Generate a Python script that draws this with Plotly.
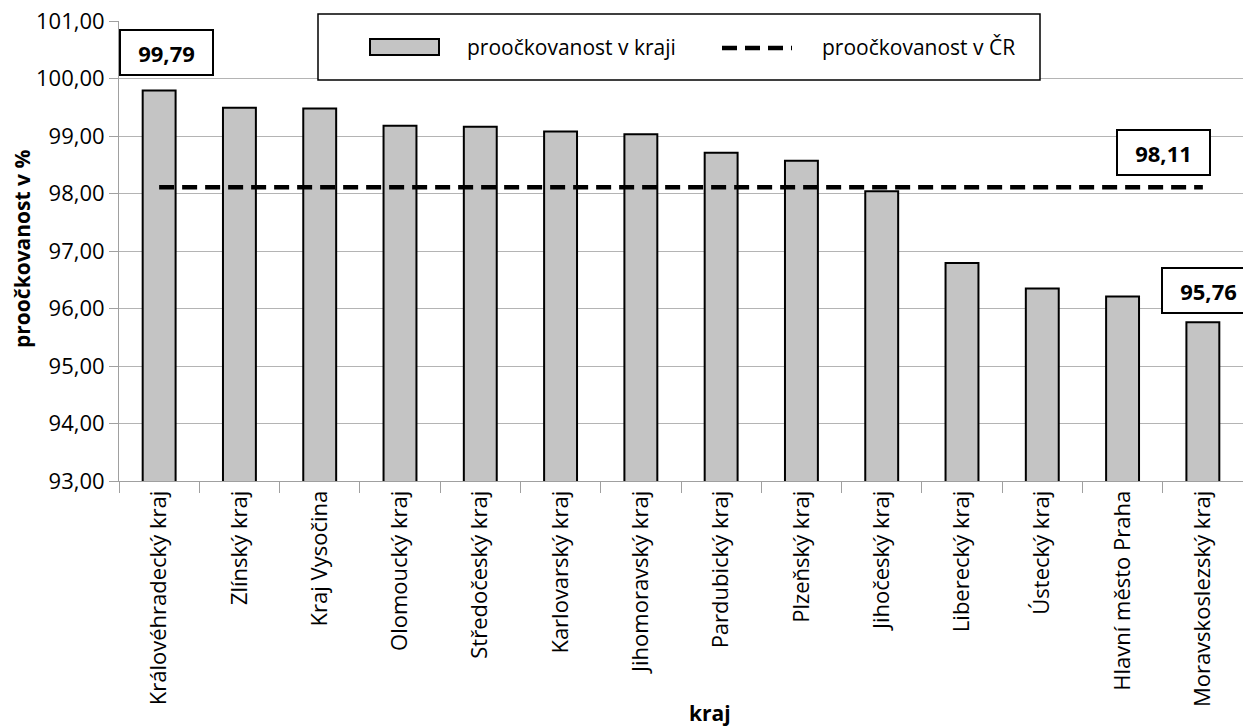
import plotly.graph_objects as go

# --- data ---
kraje = [
    "Královéhradecký kraj", "Zlínský kraj", "Kraj Vysočina", "Olomoucký kraj",
    "Středočeský kraj", "Karlovarský kraj", "Jihomoravský kraj", "Pardubický kraj",
    "Plzeňský kraj", "Jihočeský kraj", "Liberecký kraj", "Ústecký kraj",
    "Hlavní město Praha", "Moravskoslezský kraj",
]
proockovanost_kraj = [99.79, 99.49, 99.48, 99.18, 99.16, 99.08, 99.03,
                      98.71, 98.57, 98.04, 96.79, 96.35, 96.21, 95.76]
proockovanost_cr = 98.11
y_ticks = [93, 94, 95, 96, 97, 98, 99, 100, 101]

FONT = "Open Sans"
L, R, T, B = 119, 0, 21, 247
W, H = 1243, 728
PW, PH = W - L - R, H - T - B


def px(x):
    return (x - L) / PW


def py(y):
    return (H - B - y) / PH


def cz(v):
    return f"{v:.2f}".replace(".", ",")


fig = go.Figure()

# --- sloupce ---
fig.add_trace(go.Bar(
    x=kraje, y=proockovanost_kraj,
    name="proočkovanost v kraji",
    marker=dict(color="#c4c4c4", line=dict(color="black", width=2)),
    width=0.41,
))

# --- čára ČR ---
fig.add_trace(go.Scatter(
    x=kraje, y=[proockovanost_cr] * len(kraje),
    mode="lines", name="proočkovanost v ČR",
    line=dict(color="black", width=4.5, dash="15px,8px"),
))

# --- popisky hodnot ---
labels = [
    (cz(proockovanost_kraj[0]), 166, 52),
    (cz(proockovanost_cr), 1163.5, 152),
    (cz(proockovanost_kraj[-1]), 1208, 290),
]
for txt, x, y in labels:
    fig.add_annotation(
        x=px(x), y=py(y), xref="paper", yref="paper",
        xanchor="center", yanchor="middle",
        text=f"<b>{txt}</b>", showarrow=False,
        font=dict(family=FONT, size=22, color="black"),
        bgcolor="white", bordercolor="black", borderwidth=2, borderpad=0,
        width=91, height=43,
    )

# --- legenda (ručně) ---
fig.add_shape(type="rect", xref="paper", yref="paper",
              x0=px(318), x1=px(1040), y0=py(14), y1=py(80),
              line=dict(color="black", width=1.5), fillcolor="white", layer="above")
fig.add_shape(type="rect", xref="paper", yref="paper",
              x0=px(370), x1=px(439), y0=py(39), y1=py(55),
              line=dict(color="black", width=2), fillcolor="#c4c4c4", layer="above")
fig.add_shape(type="line", xref="paper", yref="paper",
              x0=px(722), x1=px(792), y0=py(48), y1=py(48),
              line=dict(color="black", width=4.5, dash="15px,8px"), layer="above")
fig.add_annotation(x=px(465), y=py(47), xref="paper", yref="paper",
                   xanchor="left", yanchor="middle",
                   text="proočkovanost v kraji", showarrow=False,
                   font=dict(family=FONT, size=21, color="black"))
fig.add_annotation(x=px(820), y=py(47), xref="paper", yref="paper",
                   xanchor="left", yanchor="middle",
                   text="proočkovanost v ČR", showarrow=False,
                   font=dict(family=FONT, size=21, color="black"))

# --- názvy os ---
fig.add_annotation(x=px(22), y=py(249), xref="paper", yref="paper",
                   xanchor="center", yanchor="middle",
                   text="<b>proočkovanost v %</b>", textangle=-90, showarrow=False,
                   font=dict(family=FONT, size=21, color="black"))
fig.add_annotation(x=px(710), y=py(713), xref="paper", yref="paper",
                   xanchor="center", yanchor="middle",
                   text="<b>kraj</b>", showarrow=False,
                   font=dict(family=FONT, size=21, color="black"))

fig.update_layout(
    width=W, height=H,
    margin=dict(l=L, r=R, t=T, b=B),
    paper_bgcolor="white", plot_bgcolor="white",
    separators=", ",
    showlegend=False,
    font=dict(family=FONT, size=21, color="black"),
)
fig.update_xaxes(
    tickangle=-90, tickson="boundaries", ticks="outside", ticklen=11,
    tickcolor="#a0a0a0", showline=True, linecolor="#a0a0a0", linewidth=1,
    showgrid=False, range=[-0.5, len(kraje) - 0.5],
    tickfont=dict(family=FONT, size=22, color="black"),
)
fig.update_yaxes(
    range=[93, 101], tickvals=y_ticks, tickformat=".2f",
    ticks="outside", ticklen=9, tickcolor="#a0a0a0",
    showline=True, linecolor="#a0a0a0", linewidth=1,
    showgrid=True, gridcolor="#b4b4b4", gridwidth=1, zeroline=False,
    tickfont=dict(family=FONT, size=22, color="black"),
)

fig.write_html(
    "out.html",
    config={"displayModeBar": False},
    post_script="document.body.style.margin='0';document.body.style.overflow='hidden';",
)
